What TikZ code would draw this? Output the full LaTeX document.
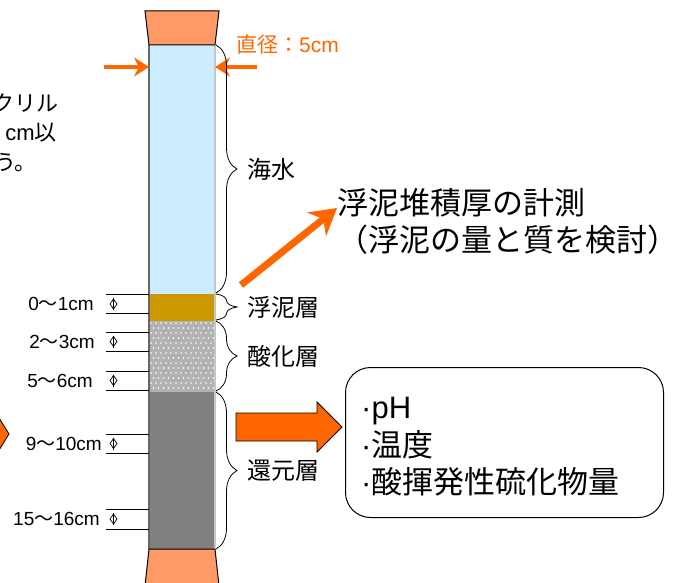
\documentclass[tikz,border=0pt]{standalone}
\usepackage{fontspec}
\setmainfont{Noto Sans CJK JP}
\newfontfamily\latin{Liberation Sans}
\usetikzlibrary{arrows.meta,decorations.pathreplacing,positioning}

\definecolor{capcol}{HTML}{FF9966}
\definecolor{seacol}{HTML}{CCECFF}
\definecolor{mudcol}{HTML}{CC9900}
\definecolor{oxcol}{HTML}{B2B2B2}
\definecolor{redcol}{HTML}{808080}
\definecolor{orng}{HTML}{FF6600}

\tikzset{
  tapon/.style={fill=capcol, draw=black, line width=1pt},
  layerbrace/.style={decorate, decoration={brace, amplitude=21pt, aspect=0.5}, line width=0.8pt},
  layerlbl/.style={font=\fontsize{24pt}{28pt}\selectfont, anchor=west, inner sep=0pt, xshift=31pt},
  depthlbl/.style={font=\fontsize{19pt}{22pt}\selectfont, anchor=east, inner sep=0pt},
  sidetxt/.style={font=\fontsize{22pt}{26pt}\selectfont, anchor=east, inner sep=0pt},
  diam/.style={orng, line width=4pt, -{Stealth[length=15pt, width=19pt]}},
  bigline/.style={orng, line width=7pt, -{Stealth[length=26pt, width=30pt]}},
  blockarrow/.style={fill=orng, draw=black, line width=0.8pt},
}

\begin{document}
\begin{tikzpicture}[x=1pt, y=-1pt]
  \useasboundingbox (0,0) rectangle (680,583);
  \clip (0,0) rectangle (680,583);

  % capas de la columna
  \fill[seacol] (149,45) rectangle (215,293.5);
  \fill[mudcol] (149,293.5) rectangle (215,320.5);
  \fill[oxcol] (149,320.5) rectangle (215,391.5);
  \foreach \j [evaluate=\j as \off using {mod(\j,2)*2.5}] in {0,...,13}
    \foreach \i in {0,...,12}
      \fill[white] (151+\off+5*\i, 323+5*\j) circle (0.8);
  \fill[redcol] (149,391.5) rectangle (215,549);
  % bordes
  \draw[gray!80!black, line width=1.5pt] (149,45) -- (149,549);
  \draw[gray!45, line width=1.5pt] (215,45) -- (215,549);
  % tapones
  \draw[tapon] (145,11) -- (219,11) -- (215,45) -- (149,45) -- cycle;
  \draw[tapon] (149,549) -- (215,549) -- (220,595) -- (144,595) -- cycle;

  % diametro
  \coordinate (colL) at (149,67);
  \coordinate (colR) at (215,67);
  \coordinate (dl) at (104,67);
  \coordinate (dr) at (257,67);
  \draw[diam] (dl) -- (colL);
  \draw[diam] (dr) -- (colR);
  \node[orng, font=\fontsize{21pt}{24pt}\selectfont, anchor=west, inner sep=0pt]
    (diamlbl) at (236,45) {直径：{\latin 5cm}};

  % llaves de las capas
  \draw[layerbrace] (216,45) -- (216,293) node[layerlbl, midway] (sea) {海水};
  \draw[layerbrace] (216,294) -- (216,320) node[layerlbl, midway] (mud) {浮泥層};
  \draw[layerbrace] (216,321) -- (216,391) node[layerlbl, midway] (oxi) {酸化層};
  \draw[layerbrace] (216,392) -- (216,549) node[layerlbl, midway] (red) {還元層};

  % profundidades de muestreo
  \foreach \ya/\yb/\xl/\da/\db [count=\i] in {294.5/313.5/94/0/1, 332/351/95/2/3,
      371/390/93/5/6, 434/453/102/9/10, 509/529/100/15/16} {
    \draw[line width=0.8pt] (106,\ya) -- (149,\ya);
    \draw[line width=0.8pt] (106,\yb) -- (149,\yb);
    \node[depthlbl] (depth\i) at (\xl,{(\ya+\yb)/2}) {{\latin\da}〜{\latin\db cm}};
    \draw[line width=0.7pt] (113.5,{(\ya+\yb)/2-6}) -- (113.5,{(\ya+\yb)/2+6});
    \draw[line width=0.7pt] (110,{(\ya+\yb)/2}) -- (113.5,{(\ya+\yb)/2-5})
      -- (117,{(\ya+\yb)/2}) -- (113.5,{(\ya+\yb)/2+5}) -- cycle;
  }

  % espesor del lodo
  \node[font=\fontsize{31pt}{37pt}\selectfont, anchor=north west, inner sep=0pt, align=left]
    (meas) at (337,188) {浮泥堆積厚の計測\\（浮泥の量と質を検討）};
  \coordinate (mudtail) at (241,285);
  \draw[bigline] (mudtail) -- ([shift={(0,20)}]meas.north west);

  % mediciones en la capa reducida
  \draw[blockarrow] (236,413) -- (317,413) -- (317,402) -- (342,427) -- (317,452)
    -- (317,441) -- (236,441) -- cycle;
  \node[draw, line width=1pt, rounded corners=25pt, anchor=north west,
    minimum width=318pt, minimum height=150pt] (items) at (345,367) {};
  \node[anchor=west, inner sep=0pt, align=left, font=\fontsize{31pt}{37.5pt}\selectfont]
    (itemtxt) at (361,447) {{\latin ·pH}\\{\latin ·}温度\\{\latin ·}酸揮発性硫化物量};

  % texto y flecha recortados a la izquierda
  \node[sidetxt] (note1) at (59,103) {クリル};
  \node[sidetxt] (note2) at (57,133) {{\latin cm}以};
  \node[sidetxt] (note3) at (37,163) {う。};
  \draw[blockarrow] (-12,400) -- (9,434) -- (-12,468) -- cycle;
\end{tikzpicture}
\end{document}
